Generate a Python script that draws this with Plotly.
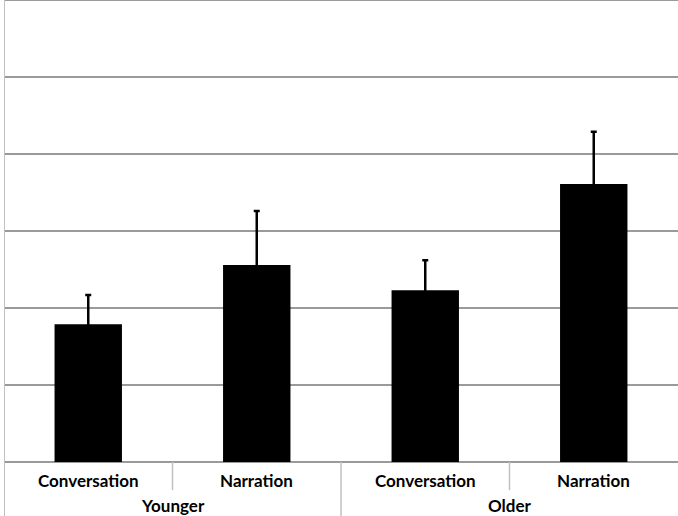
import plotly.graph_objects as go

groups = ["Younger", "Younger", "Older", "Older"]
conditions = ["Conversation", "Narration", "Conversation", "Narration"]
values = [1.79, 2.56, 2.23, 3.61]
errors = [0.38, 0.70, 0.39, 0.68]
group_labels = ["Younger", "Older"]

x = list(range(len(values)))

fig = go.Figure()
fig.add_trace(go.Bar(
    x=x, y=values,
    width=0.4,
    marker=dict(color="black", line=dict(width=0)),
    error_y=dict(type="data", array=errors, visible=True, color="black", thickness=2.5, width=3),
    showlegend=False,
))

font = dict(family="Lato, Liberation Sans, Arial, sans-serif", size=17, color="black")

anns = []
for i, c in enumerate(conditions):
    anns.append(dict(x=i, y=0, xref="x", yref="paper", yanchor="middle", yshift=-18,
                     text="<b>%s</b>" % c, showarrow=False, font=font))
for j, g in enumerate(group_labels):
    anns.append(dict(x=2 * j + 0.5, y=0, xref="x", yref="paper", yanchor="middle", yshift=-43,
                     text="<b>%s</b>" % g, showarrow=False, font=font))

sep = "#c0c0c0"
grid = "#9a9a9a"
shapes = [
    dict(type="line", xref="paper", yref="paper", x0=0, x1=1, y0=1, y1=1, line=dict(color=grid, width=2)),
    dict(type="line", xref="x", yref="paper", x0=-0.5, x1=-0.5, y0=-0.2, y1=1.0, line=dict(color=sep, width=2)),
    dict(type="line", xref="x", yref="paper", x0=0.5, x1=0.5, y0=-0.061, y1=0, line=dict(color=sep, width=1.5)),
    dict(type="line", xref="x", yref="paper", x0=1.5, x1=1.5, y0=-0.2, y1=0, line=dict(color=sep, width=1.5)),
    dict(type="line", xref="x", yref="paper", x0=2.5, x1=2.5, y0=-0.061, y1=0, line=dict(color=sep, width=1.5)),
]

fig.update_layout(
    width=678, height=516,
    margin=dict(l=4, r=0, t=0, b=54),
    paper_bgcolor="white", plot_bgcolor="white",
    annotations=anns, shapes=shapes,
    xaxis=dict(range=[-0.5, 3.5], showticklabels=False, showgrid=False, zeroline=False,
               showline=False, ticks=""),
    yaxis=dict(range=[0, 6], dtick=1, showticklabels=False, showgrid=True, gridcolor=grid,
               gridwidth=2, zeroline=True, zerolinecolor=grid, zerolinewidth=2,
               showline=False, ticks=""),
    bargap=0.6,
)

fig.write_html("out.html", config={"displayModeBar": False},
               post_script="document.body.style.margin='0';")
